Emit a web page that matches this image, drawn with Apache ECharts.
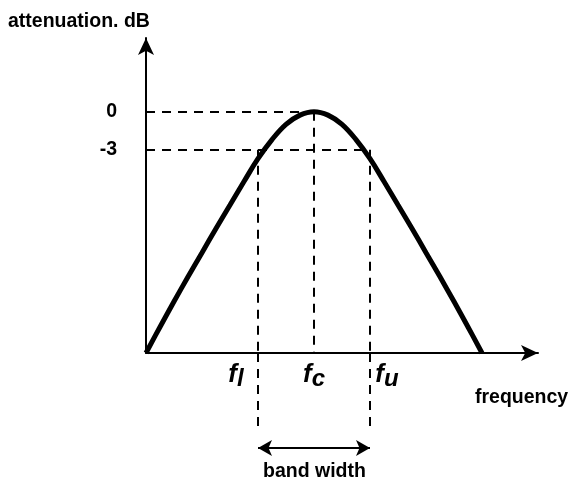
<!DOCTYPE html>
<html>
<head>
<meta charset="utf-8">
<script src="https://cdn.jsdelivr.net/npm/echarts@6/dist/echarts.min.js"></script>
<style>
  html, body { margin: 0; padding: 0; background: #fff; }
  #chart { width: 574px; height: 479px; }
</style>
</head>
<body>
<div id="chart"></div>
<script>
// band-pass response: frequency (arbitrary units) vs attenuation in dB
const freq = [0, 0.25, 0.5, 0.75, 1, 1.25, 1.5, 1.75, 2, 2.25, 2.5, 2.75, 3,
  3.25, 3.5, 3.75, 4, 4.25, 4.5, 4.75, 5, 5.25, 5.5, 5.75, 6];
const atten = [-19, -16.95, -14.95, -13.0, -11.1, -9.2, -7.35, -5.5, -3.7, -2.2, -1.0, -0.27, 0,
  -0.27, -1.0, -2.2, -3.7, -5.5, -7.35, -9.2, -11.1, -13.0, -14.95, -16.95, -19];

// marked frequencies: lower, centre, upper
const markFreq = [2, 3, 4];
const markSub = ['l', 'c', 'u'];
// marked levels
const levelDb = [0, -3];

const fl = markFreq[0], fc = markFreq[1], fu = markFreq[2];
const yMin = -19;

const chart = echarts.init(document.getElementById('chart'));

const dash = { color: '#000', width: 2, type: [9, 7] };
const font = 'Liberation Sans, Arial, Helvetica, sans-serif';
const labelTxt = { fontSize: 19.5, fontWeight: 'bold', fontFamily: font, color: '#000' };
const fStyle = { fontSize: 26, fontStyle: 'italic', fontWeight: 'bold', fontFamily: font, color: '#000' };

const option = {
  animation: false,
  title: [
    { text: 'attenuation. dB', left: 3, top: 7, textStyle: labelTxt },
    { text: 'frequency', left: 470, top: 383, textStyle: labelTxt },
    { text: 'band width', left: 258, top: 457, textStyle: labelTxt }
  ],
  grid: [
    { left: 146, right: 36, top: 38, bottom: 126 },
    { left: 146, right: 36, top: 353, height: 100 }
  ],
  xAxis: [
    {
      type: 'value', gridIndex: 0, min: 0, max: 7,
      axisLine: { show: true, onZero: false, symbol: ['none', 'arrow'], symbolSize: [12, 17],
        lineStyle: { color: '#000', width: 2 } },
      axisTick: { show: false },
      splitLine: { show: false },
      axisLabel: {
        customValues: markFreq,
        margin: 9,
        formatter: function (v) {
          const i = markFreq.indexOf(v);
          return '{f' + i + '|f}{s' + i + '|' + markSub[i] + '}';
        },
        rich: {
          f0: Object.assign({}, fStyle, { padding: [0, 0, 8, 0] }),
          s0: Object.assign({}, fStyle, { fontSize: 24, padding: [0, 44, 0, 0] }),
          f1: Object.assign({}, fStyle, { padding: [0, 0, 8, 0] }),
          s1: Object.assign({}, fStyle, { fontSize: 24 }),
          f2: Object.assign({}, fStyle, { padding: [0, 0, 8, 34] }),
          s2: Object.assign({}, fStyle, { fontSize: 24 })
        }
      }
    },
    { type: 'value', gridIndex: 1, min: 0, max: 7, show: false }
  ],
  yAxis: [
    {
      type: 'value', gridIndex: 0, min: yMin, max: 5.8,
      axisLine: { show: true, onZero: false, symbol: ['none', 'arrow'], symbolSize: [12, 17],
        lineStyle: { color: '#000', width: 2 } },
      axisTick: { show: false },
      splitLine: { show: false },
      axisLabel: {
        customValues: levelDb,
        margin: 29,
        fontSize: 19.5, fontWeight: 'bold', fontFamily: font, color: '#000',
        formatter: function (v) { return String(v); }
      }
    },
    { type: 'value', gridIndex: 1, min: 0, max: 100, show: false }
  ],
  series: [
    {
      // guide lines
      type: 'line', xAxisIndex: 0, yAxisIndex: 0, data: [], z: 1,
      markLine: {
        silent: true, symbol: 'none', label: { show: false },
        lineStyle: dash,
        data: [
          [{ coord: [0, levelDb[0]] }, { coord: [fc, levelDb[0]] }],
          [{ coord: [0, levelDb[1]] }, { coord: [fu, levelDb[1]] }],
          [{ coord: [fc, levelDb[0]] }, { coord: [fc, yMin] }],
          [{ coord: [fl, levelDb[1]] }, { coord: [fl, yMin] }],
          [{ coord: [fu, levelDb[1]] }, { coord: [fu, yMin] }]
        ]
      }
    },
    {
      type: 'line', xAxisIndex: 0, yAxisIndex: 0, z: 3,
      data: freq.map((f, i) => [f, atten[i]]),
      smooth: 0.4, showSymbol: false,
      lineStyle: { color: '#000', width: 5 }
    },
    {
      // continuation below the axis and the band width arrow
      type: 'line', xAxisIndex: 1, yAxisIndex: 1, data: [], z: 1,
      markLine: {
        silent: true, symbol: 'none', label: { show: false },
        lineStyle: dash,
        data: [
          [{ coord: [fl, 100] }, { coord: [fl, 25] }],
          [{ coord: [fu, 100] }, { coord: [fu, 25] }],
          [{ coord: [fl, 5], symbol: 'arrow', symbolSize: [12, 14] },
           { coord: [fu, 5], symbol: 'arrow', symbolSize: [12, 14],
             lineStyle: { color: '#000', width: 2, type: 'solid' } }]
        ]
      }
    }
  ]
};

chart.setOption(option);
</script>
</body>
</html>
